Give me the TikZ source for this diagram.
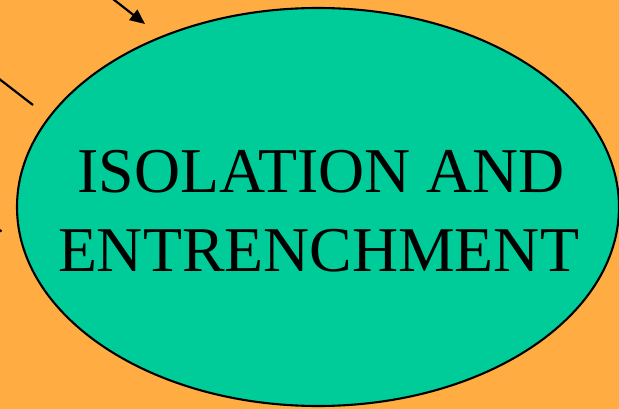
\documentclass[tikz,border=0pt]{standalone}
\usepackage{fontspec}
\setmainfont{Liberation Serif}
\usetikzlibrary{shapes.geometric,arrows.meta}
\definecolor{bgorange}{HTML}{FFAD42}
\definecolor{ovalgreen}{HTML}{00CC99}
\tikzset{
  oval/.style={ellipse,draw=black,line width=2.1pt,fill=ovalgreen,minimum width=602pt,minimum height=398pt,inner sep=0pt},
  bigtext/.style={font=\fontsize{63.8}{78}\selectfont,anchor=base,inner sep=0pt},
  conn/.style={line width=2.2pt,black},
  connarrow/.style={conn,-{Triangle[length=15pt,width=13pt]}}
}
\begin{document}
\begin{tikzpicture}[x=1pt,y=-1pt]
\useasboundingbox[fill=bgorange] (0,0) rectangle (619,409);
\node[oval] (oval) at (318,207) {};
\node[bigtext] (line1) at (321,193) {ISOLATION AND};
\node[bigtext] (line2) at (318.5,271) {ENTRENCHMENT};
\coordinate (a1s) at (113,-1);
\coordinate (a1e) at (145,24);
\draw[connarrow] (a1s) -- (a1e);
\coordinate (a2s) at (-2,78);
\coordinate (a2e) at (33,105);
\draw[conn] (a2s) -- (a2e);
\coordinate (a3s) at (-3,228);
\coordinate (a3e) at (1.5,231.5);
\draw[conn] (a3s) -- (a3e);
\end{tikzpicture}
\end{document}
